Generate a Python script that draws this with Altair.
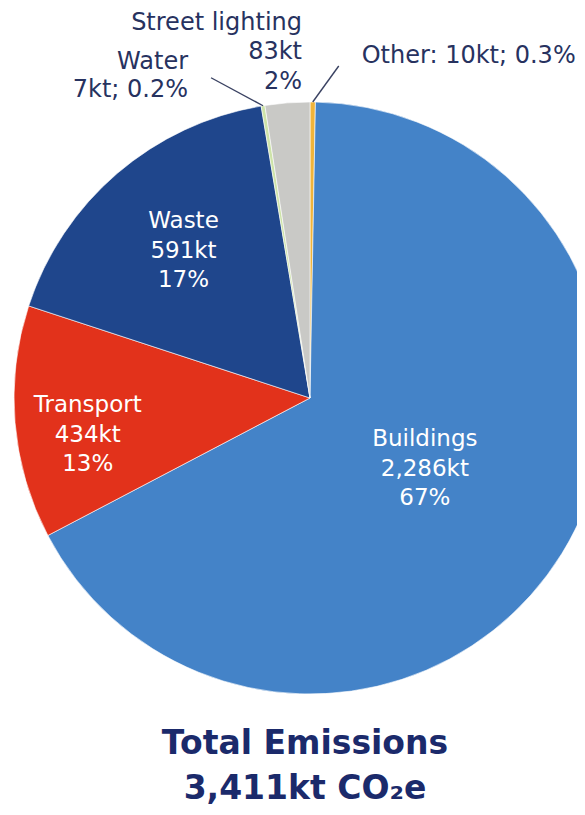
import altair as alt
import pandas as pd

categories = ["Other", "Buildings", "Transport", "Waste", "Water", "Street lighting"]
values_kt = [10, 2286, 434, 591, 7, 83]
percents = ["0.3", "67", "13", "17", "0.2", "2"]
colors = ["#F0B43A", "#4483C8", "#E2321B", "#1F468C", "#CDE3A8", "#C9C9C6"]
total_label = ["Total Emissions", "3,411kt CO\u2082e"]

labels = []
for c, v, p in zip(categories, values_kt, percents):
    if c == "Other":
        labels.append(f"{c}: {v:,}kt; {p}%")
    elif c == "Water":
        labels.append(f"{c}\n{v:,}kt; {p}%")
    else:
        labels.append(f"{c}\n{v:,}kt\n{p}%")

df = pd.DataFrame({
    "category": categories,
    "value": values_kt,
    "order": list(range(len(categories))),
    "label": labels,
})

CX, CY, R = 302, 390, 296
FONT = "DejaVu Sans"
DARK = "#27325F"
LH = 29.5

base = alt.Chart(df)

arc = base.mark_arc(outerRadius=R, stroke="white", strokeWidth=0.6).encode(
    theta=alt.Theta("value:Q", stack=True),
    order=alt.Order("order:Q"),
    color=alt.Color("category:N", scale=alt.Scale(domain=categories, range=colors), legend=None),
    x=alt.value(CX),
    y=alt.value(CY),
)

polar = base.transform_joinaggregate(
    total="sum(value)"
).transform_window(
    cum="sum(value)", sort=[alt.SortField("order", order="ascending")], frame=[None, 0]
).transform_calculate(
    ang="(datum.cum - datum.value / 2) / datum.total * 2 * PI"
)


def label_layer(cat, r, dx=0, dy=0, align="center", color="white", size=23, nlines=3):
    return polar.transform_filter(
        alt.datum.category == cat
    ).transform_calculate(
        px=f"{CX} + {r} * sin(datum.ang)",
        py=f"{CY} - {r} * cos(datum.ang)",
    ).mark_text(
        font=FONT, fontSize=size, lineHeight=LH, lineBreak="\n",
        align=align, baseline="middle", dx=dx, dy=dy - (nlines - 1) / 2 * LH, color=color,
    ).encode(
        x=alt.X("px:Q", scale=None),
        y=alt.Y("py:Q", scale=None),
        text="label:N",
    )


def leader(cat, ox, oy, lx, ly, align, nlines):
    lines = polar.transform_filter(
        alt.datum.category == cat
    ).transform_calculate(
        x1=f"{CX} + {R} * sin(datum.ang)",
        y1=f"{CY} - {R} * cos(datum.ang)",
    ).transform_calculate(
        x2=f"datum.x1 + ({ox})",
        y2=f"datum.y1 + ({oy})",
    )
    rule = lines.mark_rule(color="#3A4262", strokeWidth=1.4).encode(
        x=alt.X("x1:Q", scale=None),
        y=alt.Y("y1:Q", scale=None),
        x2="x2:Q",
        y2="y2:Q",
    )
    text = lines.mark_text(
        font=FONT, fontSize=24, lineHeight=28, lineBreak="\n",
        align=align, baseline="middle", dx=lx, dy=ly - (nlines - 1) / 2 * 28, color=DARK,
    ).encode(
        x=alt.X("x2:Q", scale=None),
        y=alt.Y("y2:Q", scale=None),
        text="label:N",
    )
    return rule + text


chart = alt.layer(
    arc,
    label_layer("Buildings", 135),
    label_layer("Transport", 223, dy=18),
    label_layer("Waste", 194),
    label_layer("Street lighting", 347, dx=18.5, align="right", color=DARK, size=24),
    leader("Water", -52, -28, -23, -2, "right", 2),
    leader("Other", 26, -36, 23, -10, "left", 1),
).properties(
    width=569,
    height=800,
    padding=0,
    autosize=alt.AutoSizeParams(type="none"),
    title=alt.TitleParams(
        text=total_label,
        orient="bottom",
        anchor="middle",
        font=FONT,
        fontSize=33,
        fontWeight="bold",
        lineHeight=45,
        color="#1B2A6B",
        dx=12.5,
        offset=-80,
    ),
).configure_view(stroke=None)

chart.save("out.html", embed_options={"renderer": "svg", "actions": False})
